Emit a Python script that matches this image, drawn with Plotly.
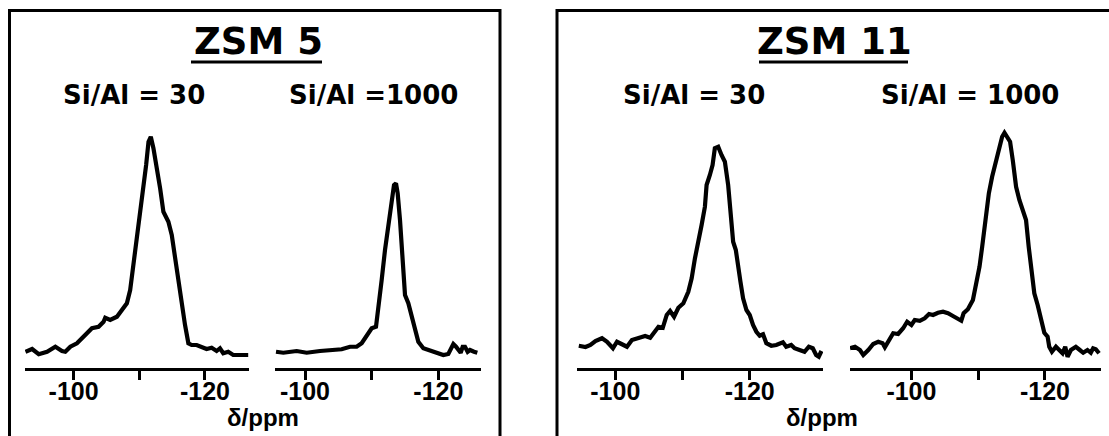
import plotly.graph_objects as go

# ---------------- data (chemical shift in ppm, intensity in a.u.) ----------------
zsm5_30_ppm = [-92.67, -93.68, -94.69, -95.96, -97.22, -98.23, -98.74, -99.50, -100.51, -101.27,
               -102.03, -102.79, -103.80, -104.56, -104.81, -105.57, -106.59, -107.35, -108.11, -108.61,
               -109.12, -109.62, -110.13, -110.64, -111.04, -111.40, -111.75, -112.15, -112.66, -113.17,
               -113.67, -114.43, -114.94, -115.44, -115.95, -116.46, -116.96, -117.47, -117.97, -118.73,
               -119.50, -120.25, -121.01, -121.77, -122.28, -122.78, -123.54, -124.30, -125.31, -126.58]
zsm5_30_int = [6.5, 7.6, 5.5, 6.5, 8.5, 6.8, 6.5, 8.5, 9.9, 11.9,
               13.9, 15.9, 16.5, 18.5, 20.1, 19.2, 20.5, 23.2, 25.9, 31.2,
               41.2, 51.9, 62.5, 71.9, 81.2, 90.5, 92.5, 87.9, 80.5, 71.9,
               62.5, 58.5, 53.2, 43.9, 35.9, 26.5, 17.2, 9.9, 9.2, 9.2,
               8.5, 7.6, 8.1, 6.8, 7.9, 5.9, 6.5, 5.2, 5.2, 5.2]

zsm5_1000_ppm = [-95.65, -96.75, -98.75, -100.25, -102.25, -104.25, -105.50, -106.75, -107.75, -108.50,
                 -109.00, -109.50, -110.00, -110.65, -111.00, -111.50, -112.00, -112.50, -113.00, -113.35,
                 -113.65, -113.90, -114.25, -114.65, -115.00, -115.50, -116.00, -116.50, -117.00, -117.75,
                 -118.75, -119.75, -120.75, -121.50, -122.00, -122.25, -122.65, -123.00, -123.35, -123.65,
                 -124.00, -124.40, -124.75, -125.35, -125.85]
zsm5_1000_int = [6.5, 6.1, 6.8, 6.1, 6.8, 7.2, 7.5, 8.5, 8.5, 9.9,
                 11.9, 14.5, 15.9, 16.5, 23.2, 35.2, 47.2, 57.9, 67.2, 73.2,
                 73.9, 69.9, 59.2, 45.9, 29.2, 25.9, 20.5, 15.2, 10.5, 7.9,
                 6.9, 5.9, 5.2, 5.6, 7.9, 9.6, 8.5, 7.2, 6.1, 8.5,
                 8.5, 6.5, 7.2, 6.5, 6.1]

zsm11_30_ppm = [-94.57, -95.56, -96.30, -97.04, -98.02, -98.77, -99.65, -100.25, -100.99, -101.73,
                -102.47, -103.46, -104.44, -105.19, -105.93, -106.42, -107.06, -107.65, -108.15, -108.74,
                -109.38, -110.12, -110.86, -111.36, -111.85, -112.35, -112.84, -113.33, -113.58, -114.07,
                -114.47, -114.81, -115.31, -115.80, -116.30, -116.79, -117.14, -117.53, -117.93, -118.27,
                -118.62, -119.01, -119.51, -120.00, -120.49, -120.99, -121.48, -121.98, -122.47, -123.21,
                -123.95, -124.94, -125.43, -126.17, -126.67, -127.41, -128.15, -128.79, -129.38, -129.88,
                -130.27, -130.67]
zsm11_30_int = [8.9, 8.4, 9.2, 10.8, 11.9, 10.5, 7.9, 10.5, 9.5, 8.5,
                11.2, 11.9, 12.8, 12.1, 14.5, 16.5, 16.1, 21.2, 22.8, 20.5,
                24.1, 25.9, 30.5, 35.9, 43.9, 49.9, 57.2, 64.5, 73.2, 77.2,
                81.2, 87.9, 88.5, 85.2, 82.5, 73.2, 61.2, 50.5, 47.2, 39.9,
                34.5, 27.9, 23.2, 21.2, 17.2, 14.5, 12.9, 13.5, 9.9, 8.9,
                9.2, 10.3, 8.5, 9.2, 7.9, 7.2, 6.5, 8.5, 7.9, 5.2,
                4.5, 6.8]

zsm11_1000_ppm = [-90.80, -91.55, -92.29, -92.79, -93.54, -94.28, -95.03, -95.68, -96.02, -96.52,
                  -97.27, -98.01, -98.76, -99.36, -100.00, -100.50, -101.25, -101.99, -102.64, -103.24,
                  -103.98, -104.73, -105.48, -106.22, -106.97, -107.47, -107.82, -108.46, -109.21, -109.71,
                  -110.20, -110.60, -111.10, -111.60, -112.09, -112.69, -113.19, -113.59, -113.94, -114.28,
                  -114.78, -115.18, -115.68, -116.17, -116.77, -117.17, -117.57, -117.92, -118.41, -118.91,
                  -119.41, -119.91, -120.40, -120.65, -121.05, -121.65, -122.14, -122.64, -123.04, -123.39,
                  -123.89, -124.63, -125.23, -125.73, -126.37, -126.87, -127.22, -127.62, -128.11]
zsm11_1000_int = [7.9, 8.5, 7.2, 5.2, 7.2, 9.6, 10.5, 9.9, 8.3, 10.9,
                  13.9, 13.6, 15.9, 18.5, 17.2, 19.2, 18.9, 19.9, 21.6, 21.2,
                  22.1, 22.5, 21.9, 20.8, 19.9, 18.9, 21.9, 23.5, 27.2, 33.9,
                  40.5, 48.5, 59.2, 69.9, 76.5, 83.2, 89.2, 92.5, 94.1, 92.5,
                  90.5, 83.2, 72.5, 67.2, 61.9, 59.2, 48.5, 39.2, 29.9, 25.2,
                  19.2, 14.1, 12.5, 8.5, 6.5, 8.5, 7.2, 5.9, 8.5, 4.5,
                  7.2, 8.5, 7.2, 6.1, 7.2, 6.1, 7.9, 7.5, 5.9]

panel_titles = ["ZSM 5", "ZSM 11"]
sample_labels = ["Si/Al = 30", "Si/Al =1000", "Si/Al = 30", "Si/Al = 1000"]
tick_values = [-100, -110, -120]
tick_labels = ["-100", "", "-120"]
axis_title = "δ/ppm"

# ---------------- layout helpers ----------------
W, H = 1109, 436
series = [(zsm5_30_ppm, zsm5_30_int), (zsm5_1000_ppm, zsm5_1000_int),
          (zsm11_30_ppm, zsm11_30_int), (zsm11_1000_ppm, zsm11_1000_int)]
x_ranges = [[-92.6, -126.7], [-95.5, -126.4], [-94.3, -130.9], [-90.8, -128.4]]
x_domains = [[25 / W, 249 / W], [275 / W, 481 / W], [577 / W, 823 / W], [850 / W, 1101 / W]]
y_domain = [1 - 368 / H, 1 - 110 / H]
y_range = [0, 103.2]

narrow = "Liberation Sans, Arial, sans-serif"
heavy = "DejaVu Sans, Verdana, sans-serif"

fig = go.Figure()
layout = dict(width=W, height=H, margin=dict(l=0, r=0, t=0, b=0), autosize=False,
              paper_bgcolor="white", plot_bgcolor="rgba(0,0,0,0)", showlegend=False)

for i, (xs, ys) in enumerate(series):
    n = "" if i == 0 else str(i + 1)
    fig.add_trace(go.Scatter(x=xs, y=ys, mode="lines", xaxis="x" + n, yaxis="y" + n,
                             line=dict(color="black", width=4.2), hoverinfo="skip"))
    layout["xaxis" + n] = dict(domain=x_domains[i], range=x_ranges[i], anchor="y" + n,
                               showgrid=False, zeroline=False, showline=True,
                               linecolor="black", linewidth=3, ticks="outside",
                               ticklen=9, tickwidth=2.5, tickcolor="black",
                               tickvals=tick_values,
                               ticktext=[("<b>" + t + "</b>") if t else "" for t in tick_labels],
                               ticklabelstandoff=-10,
                               tickfont=dict(family=narrow, size=25, color="black"))
    layout["yaxis" + n] = dict(domain=y_domain, range=y_range, anchor="x" + n, visible=False)

fig.update_layout(**layout)

annotations = []
shapes = []
title_x = [258 / W, 834 / W]
underline = [(191 / W, 322 / W), (759 / W, 908 / W)]
for j, t in enumerate(panel_titles):
    annotations.append(dict(text="<b>" + t + "</b>", x=title_x[j], y=1 - 42 / H, xref="paper", yref="paper",
                            showarrow=False, xanchor="center", yanchor="middle",
                            font=dict(family=heavy, size=37, color="black")))
    shapes.append(dict(type="line", xref="paper", yref="paper", x0=underline[j][0], x1=underline[j][1],
                       y0=1 - 62 / H, y1=1 - 62 / H, line=dict(color="black", width=3)))

label_x = [134 / W, 373 / W, 694 / W, 970 / W]
for k, s in enumerate(sample_labels):
    annotations.append(dict(text="<b>" + s + "</b>", x=label_x[k], y=1 - 95 / H, xref="paper", yref="paper",
                            showarrow=False, xanchor="center", yanchor="middle",
                            font=dict(family=heavy, size=26, color="black")))

for cx in [263 / W, 822 / W]:
    annotations.append(dict(text="<b>" + axis_title + "</b>", x=cx, y=1 - 417 / H, xref="paper", yref="paper",
                            showarrow=False, xanchor="center", yanchor="middle",
                            font=dict(family=narrow, size=24, color="black")))

# panel frames (bottom edge lies outside the picture)
shapes.append(dict(type="path", xref="paper", yref="paper",
                   path=f"M {9.5 / W},-0.1 L {9.5 / W},{1 - 10.5 / H} L {500 / W},{1 - 10.5 / H} L {500 / W},-0.1",
                   line=dict(color="black", width=3)))
shapes.append(dict(type="path", xref="paper", yref="paper",
                   path=f"M {557 / W},-0.1 L {557 / W},{1 - 10.5 / H} L 1.1,{1 - 10.5 / H}",
                   line=dict(color="black", width=3)))

fig.update_layout(annotations=annotations, shapes=shapes)
fig.write_html("out.html")
